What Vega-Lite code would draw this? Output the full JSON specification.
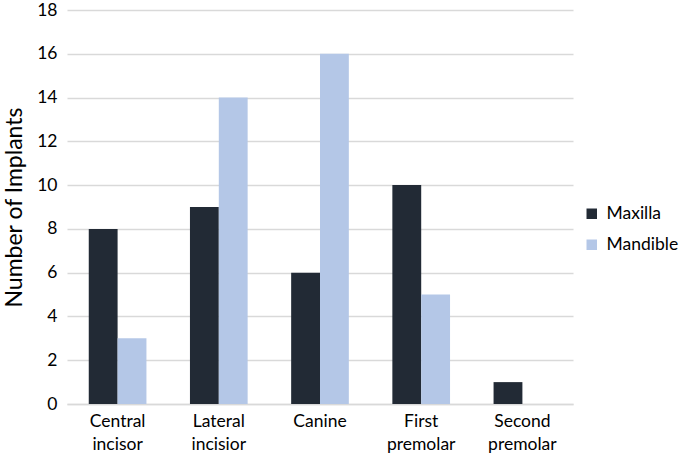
{
  "$schema": "https://vega.github.io/schema/vega-lite/v6.json",
  "autosize": "none",
  "width": 506,
  "height": 394,
  "padding": {"left": 67, "top": 10, "right": 112, "bottom": 53},
  "background": "white",
  "config": {
    "view": {"stroke": null},
    "font": "Lato"
  },
  "data": {
    "values": [
      {"tooth": "Central incisor", "jaw": "Maxilla", "n": 8},
      {"tooth": "Central incisor", "jaw": "Mandible", "n": 3},
      {"tooth": "Lateral incisior", "jaw": "Maxilla", "n": 9},
      {"tooth": "Lateral incisior", "jaw": "Mandible", "n": 14},
      {"tooth": "Canine", "jaw": "Maxilla", "n": 6},
      {"tooth": "Canine", "jaw": "Mandible", "n": 16},
      {"tooth": "First premolar", "jaw": "Maxilla", "n": 10},
      {"tooth": "First premolar", "jaw": "Mandible", "n": 5},
      {"tooth": "Second premolar", "jaw": "Maxilla", "n": 1},
      {"tooth": "Second premolar", "jaw": "Mandible", "n": 0}
    ]
  },
  "mark": {"type": "bar"},
  "encoding": {
    "x": {
      "field": "tooth",
      "type": "nominal",
      "sort": null,
      "scale": {"paddingInner": 0.43, "paddingOuter": 0.215},
      "axis": {
        "title": null,
        "labelAngle": 0,
        "labelExpr": "split(datum.label, ' ')",
        "labelFontSize": 17.5,
        "labelColor": "#000000",
        "labelLineHeight": 23,
        "labelPadding": 8,
        "ticks": false,
        "domainColor": "#d9d9d9",
        "domainWidth": 1.5
      }
    },
    "xOffset": {"field": "jaw", "type": "nominal", "sort": ["Maxilla", "Mandible"]},
    "y": {
      "field": "n",
      "type": "quantitative",
      "scale": {"domain": [0, 18]},
      "axis": {
        "title": "Number of Implants",
        "titleFontSize": 23,
        "titleFontWeight": "normal",
        "titleColor": "#000000",
        "titlePadding": 10,
        "values": [0, 2, 4, 6, 8, 10, 12, 14, 16, 18],
        "labelFontSize": 17.5,
        "labelColor": "#000000",
        "labelPadding": 10,
        "ticks": false,
        "domain": false,
        "gridColor": "#d9d9d9",
        "gridWidth": 1.5
      }
    },
    "color": {
      "field": "jaw",
      "type": "nominal",
      "sort": ["Maxilla", "Mandible"],
      "scale": {"domain": ["Maxilla", "Mandible"], "range": ["#222a35", "#b4c7e7"]},
      "legend": {
        "title": null,
        "orient": "none",
        "legendX": 516,
        "legendY": 195,
        "symbolType": "square",
        "symbolSize": 110,
        "labelFontSize": 17.5,
        "labelColor": "#000000",
        "rowPadding": 12,
        "labelOffset": 6,
        "symbolStrokeWidth": 0
      }
    }
  }
}
